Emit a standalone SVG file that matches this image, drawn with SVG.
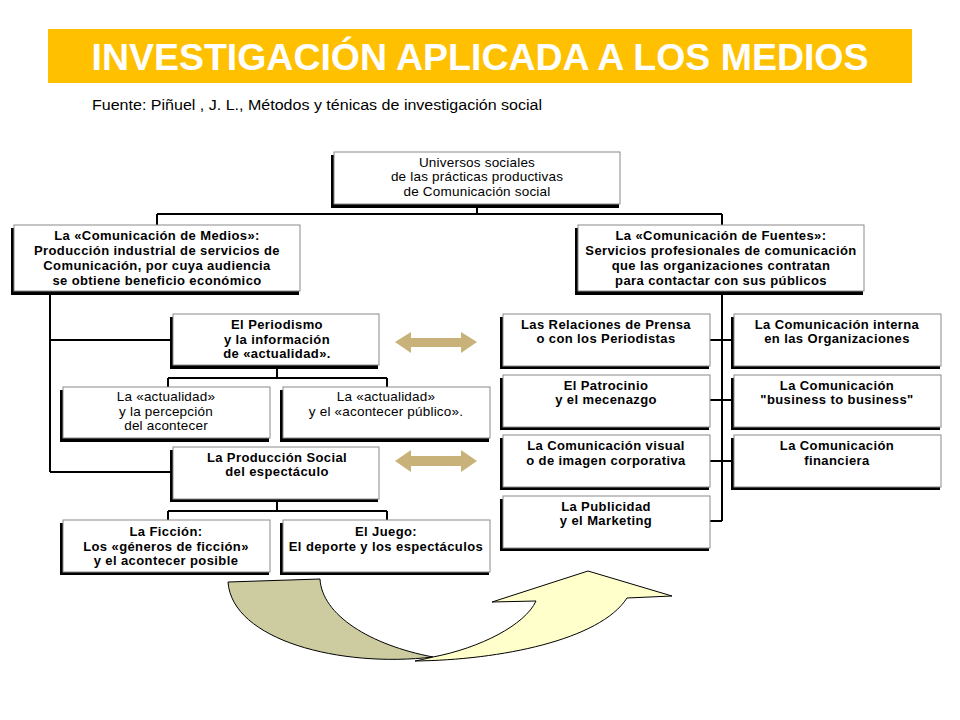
<svg xmlns="http://www.w3.org/2000/svg" width="960" height="720" viewBox="0 0 960 720">
<style>
.sh{fill:#000}
.bx{fill:#fff;stroke:#8a8a8a;stroke-width:1}
.b{font-family:"Liberation Sans",Arial,sans-serif;font-size:13px;font-weight:bold;letter-spacing:0.4px;fill:#000;text-anchor:middle}
.r{font-family:"Liberation Sans",Arial,sans-serif;font-size:13.5px;letter-spacing:0.2px;fill:#000;text-anchor:middle}
.ln{fill:none;stroke:#000;stroke-width:2}
.dbl{fill:#C8B27A}
</style>
<rect width="960" height="720" fill="#fff"/>
<g id="title">
<rect x="48" y="29" width="864" height="54" fill="#FFC000"/>
<text x="480" y="70" font-family="Liberation Sans,Arial,sans-serif" font-size="36" font-weight="bold" fill="#fff" text-anchor="middle" textLength="777" lengthAdjust="spacingAndGlyphs">INVESTIGACIÓN APLICADA A LOS MEDIOS</text>
</g>
<text id="source" x="92" y="110" font-family="Liberation Sans,Arial,sans-serif" font-size="14" fill="#000" textLength="450" lengthAdjust="spacingAndGlyphs">Fuente: Piñuel , J. L., Métodos y ténicas de investigación social</text>

<g id="connectors">
<path class="ln" d="M477,205 V214 M157,214 H722 M157,214 V225 M722,214 V225"/>
<path class="ln" d="M50,293 V472 M50,340 H172 M50,472 H172"/>
<path class="ln" d="M277,366 V378 M168,378 H387 M168,378 V387 M387,378 V387"/>
<path class="ln" d="M277,500 V511 M168,511 H387 M168,511 V520 M387,511 V520"/>
<path class="ln" d="M722,292 V521 M710,340 H733 M710,400 H733 M710,461 H733 M710,521 H722"/>
</g>

<g id="n_universos">
<rect class="sh" x="331" y="155" width="288" height="53"/>
<rect class="bx" x="334" y="152" width="286" height="52"/>
<text class="r" x="477" y="167">Universos sociales</text>
<text class="r" x="477" y="181">de las prácticas productivas</text>
<text class="r" x="477" y="196">de Comunicación social</text>
</g>

<g id="n_medios">
<rect class="sh" x="11" y="228" width="288" height="67"/>
<rect class="bx" x="14" y="225" width="286" height="66"/>
<text class="b" x="157" y="240">La «Comunicación de Medios»:</text>
<text class="b" x="157" y="255">Producción industrial de servicios de</text>
<text class="b" x="157" y="270">Comunicación, por cuya audiencia</text>
<text class="b" x="157" y="285">se obtiene beneficio económico</text>
</g>

<g id="n_fuentes">
<rect class="sh" x="575" y="228" width="288" height="67"/>
<rect class="bx" x="578" y="225" width="286" height="66"/>
<text class="b" x="721" y="240">La «Comunicación de Fuentes»:</text>
<text class="b" x="721" y="255">Servicios profesionales de comunicación</text>
<text class="b" x="721" y="270">que las organizaciones contratan</text>
<text class="b" x="721" y="285">para contactar con sus públicos</text>
</g>

<g id="n_periodismo">
<rect class="sh" x="170" y="317" width="208" height="52"/>
<rect class="bx" x="173" y="314" width="206" height="51"/>
<text class="b" x="277" y="329">El Periodismo</text>
<text class="b" x="277" y="344">y la información</text>
<text class="b" x="277" y="358">de «actualidad».</text>
</g>

<g id="n_actualidad1">
<rect class="sh" x="60" y="390" width="209" height="52"/>
<rect class="bx" x="63" y="387" width="207" height="51"/>
<text class="r" x="166" y="401">La «actualidad»</text>
<text class="r" x="166" y="416">y la percepción</text>
<text class="r" x="166" y="430">del acontecer</text>
</g>

<g id="n_actualidad2">
<rect class="sh" x="280" y="390" width="209" height="52"/>
<rect class="bx" x="283" y="387" width="207" height="51"/>
<text class="r" x="386" y="401">La «actualidad»</text>
<text class="r" x="386" y="416">y el «acontecer público».</text>
</g>

<g id="n_produccion">
<rect class="sh" x="170" y="450" width="208" height="52"/>
<rect class="bx" x="173" y="447" width="206" height="52"/>
<text class="b" x="277" y="462">La Producción Social</text>
<text class="b" x="277" y="476">del espectáculo</text>
</g>

<g id="n_ficcion">
<rect class="sh" x="60" y="523" width="209" height="52"/>
<rect class="bx" x="63" y="520" width="207" height="52"/>
<text class="b" x="166" y="536">La Ficción:</text>
<text class="b" x="166" y="551">Los «géneros de ficción»</text>
<text class="b" x="166" y="565">y el acontecer posible</text>
</g>

<g id="n_juego">
<rect class="sh" x="280" y="523" width="209" height="52"/>
<rect class="bx" x="283" y="520" width="207" height="52"/>
<text class="b" x="386" y="536">El Juego:</text>
<text class="b" x="386" y="551">El deporte y los espectáculos</text>
</g>

<g id="n_prensa">
<rect class="sh" x="500" y="317" width="209" height="52"/>
<rect class="bx" x="503" y="314" width="207" height="52"/>
<text class="b" x="606" y="329">Las Relaciones de Prensa</text>
<text class="b" x="606" y="343">o con los Periodistas</text>
</g>

<g id="n_interna">
<rect class="sh" x="731" y="317" width="209" height="52"/>
<rect class="bx" x="734" y="314" width="207" height="52"/>
<text class="b" x="837" y="329">La Comunicación interna</text>
<text class="b" x="837" y="343">en las Organizaciones</text>
</g>

<g id="n_patrocinio">
<rect class="sh" x="500" y="378" width="209" height="52"/>
<rect class="bx" x="503" y="375" width="207" height="52"/>
<text class="b" x="606" y="390">El Patrocinio</text>
<text class="b" x="606" y="404">y el mecenazgo</text>
</g>

<g id="n_business">
<rect class="sh" x="731" y="378" width="209" height="52"/>
<rect class="bx" x="734" y="375" width="207" height="52"/>
<text class="b" x="837" y="390">La Comunicación</text>
<text class="b" x="837" y="404">"business to business"</text>
</g>

<g id="n_visual">
<rect class="sh" x="500" y="438" width="209" height="52"/>
<rect class="bx" x="503" y="435" width="207" height="52"/>
<text class="b" x="606" y="450">La Comunicación visual</text>
<text class="b" x="606" y="465">o de imagen corporativa</text>
</g>

<g id="n_financiera">
<rect class="sh" x="731" y="438" width="209" height="52"/>
<rect class="bx" x="734" y="435" width="207" height="52"/>
<text class="b" x="837" y="450">La Comunicación</text>
<text class="b" x="837" y="465">financiera</text>
</g>

<g id="n_publicidad">
<rect class="sh" x="500" y="499" width="209" height="52"/>
<rect class="bx" x="503" y="496" width="207" height="52"/>
<text class="b" x="606" y="511">La Publicidad</text>
<text class="b" x="606" y="525">y el Marketing</text>
</g>

<g id="double_arrows">
<polygon class="dbl" points="395,342 411,332 411,338 461,338 461,332 477,342 461,353 461,347 411,347 411,353"/>
<polygon class="dbl" points="395,461 411,450 411,456 461,456 461,450 477,461 461,472 461,466 411,466 411,472"/>
</g>

<g id="curved_arrows" stroke="#000" stroke-width="1">
<path fill="#CCCCA0" d="M228,582 L320,579 C322,615 370,645 433,657 C340,668 232,640 228,582 Z"/>
<path fill="#FFFFCC" d="M415,661 C500,660 600,640 627,598 L672,596 L588,571 L492,602 L536,601 C525,625 480,648 433,657 C425,659 420,660 415,661 Z"/>
</g>
</svg>
